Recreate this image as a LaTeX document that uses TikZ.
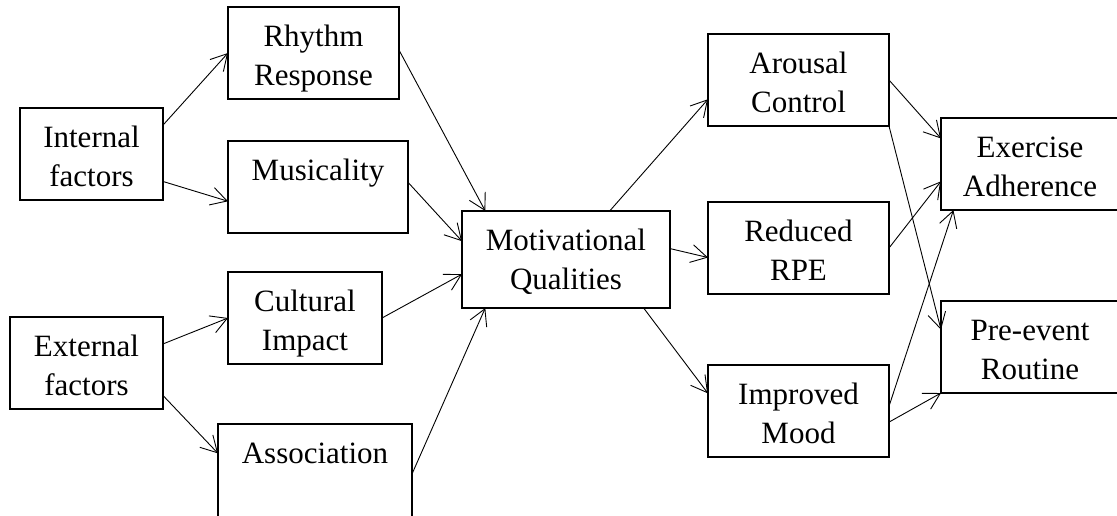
\documentclass[tikz,border=0pt]{standalone}
\usepackage{fontspec}
\setmainfont{Liberation Serif}
\usetikzlibrary{arrows.meta}

\begin{document}
\begin{tikzpicture}[x=1pt,y=-1pt,inner xsep=2pt,inner ysep=0pt,outer sep=0pt,
	font=\fontsize{31}{39}\selectfont,
	box/.style={draw,line width=1.2pt,align=center,text height=78pt,text depth=14pt},
	onebox/.style={box,text height=39pt,text depth=53pt}]
	\useasboundingbox (0,0) rectangle (1117,515);
	\clip (0,0) rectangle (1117,515);
	\node[box,minimum width=143pt] (int) at (91.5,154)  {Internal\\factors};
	\node[box,minimum width=153pt] (ext) at (86.5,363)  {External\\factors};
	\node[box,minimum width=171pt] (rhy) at (313.5,53)  {Rhythm\\Response};
	\node[onebox,minimum width=180pt] (mus) at (318,187) {Musicality};
	\node[box,minimum width=154pt] (cul) at (305,318)   {Cultural\\Impact};
	\node[onebox,minimum width=194pt,text depth=61pt] (asc) at (315,474) {Association};
	\node[box,minimum width=208pt,text depth=19pt] (mq) at (566,259.5) {Motivational\\Qualities};
	\node[box,minimum width=181pt] (aro) at (798.5,80)  {Arousal\\Control};
	\node[box,minimum width=181pt] (red) at (798.5,248) {Reduced\\RPE};
	\node[box,minimum width=181pt] (imp) at (798.5,411) {Improved\\Mood};
	\node[box,minimum width=178pt] (exe) at (1030,164)  {Exercise\\Adherence};
	\node[box,minimum width=178pt] (pre) at (1030,347)  {Pre-event\\Routine};
	\begin{scope}[->,>={Straight Barb[length=16pt,width=18pt]},line width=0.9pt]
	\draw (int.22)  -- (rhy.west);
	\draw (int.-21) -- (mus.189);
	\draw (ext.14)  -- (cul.west);
	\draw (ext.-23) -- (asc.168);
	\draw (rhy.2)   -- (mq.149);
	\draw (mus.3)   -- (mq.170);
	\draw (cul.east) -- (mq.188);
	\draw (asc.0)   -- (mq.211);
	\draw (mq.48)   -- (aro.192);
	\draw (mq.6)    -- (red.186);
	\draw (mq.-32)  -- (imp.169);
	\draw (aro.east) -- (exe.164);
	\draw (aro.south east) -- (pre.169);
	\draw (red.east) -- (exe.191);
	\draw (imp.3)   -- (exe.211);
	\draw (imp.-7)  -- (pre.south west);
	\end{scope}
\end{tikzpicture}
\end{document}
